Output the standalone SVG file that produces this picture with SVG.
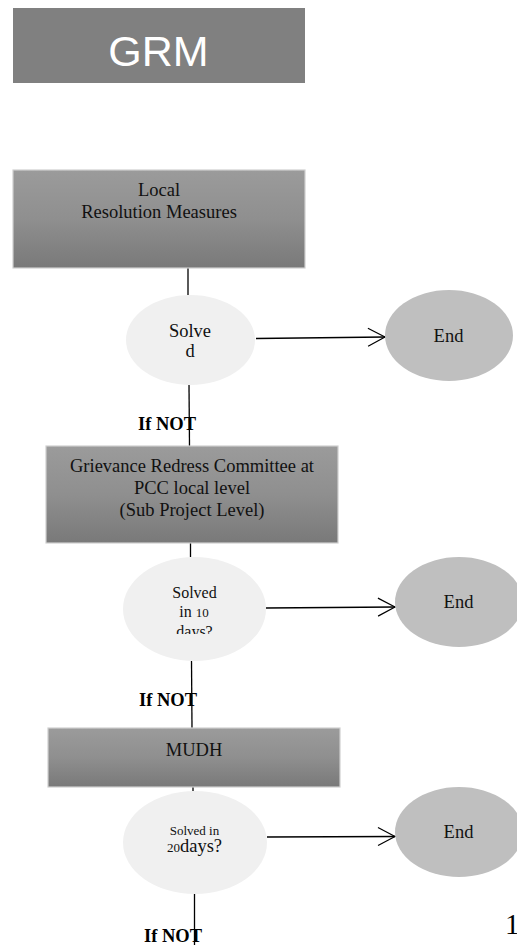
<svg xmlns="http://www.w3.org/2000/svg" width="517" height="945" viewBox="0 0 517 945">
<defs>
<linearGradient id="boxg" x1="0" y1="0" x2="0" y2="1">
<stop offset="0" stop-color="#9b9b9b"/>
<stop offset="0.5" stop-color="#8f8f8f"/>
<stop offset="1" stop-color="#797979"/>
</linearGradient>
<marker id="open" viewBox="0 0 20 20" refX="18" refY="10" markerWidth="20" markerHeight="20" markerUnits="userSpaceOnUse" orient="auto">
<path d="M1,1 L18,10 L1,19" fill="none" stroke="#000" stroke-width="1.2"/>
</marker>
<clipPath id="clip2"><rect x="120" y="570" width="150" height="64"/></clipPath>
</defs>
<style>
.box{fill:url(#boxg);stroke:#cfcfcf;stroke-width:1.2}
.dec{fill:#f0f0f0}
.end{fill:#bfbfbf}
.t{font-family:"Liberation Serif","Times New Roman",serif;font-size:18.5px;fill:#111;text-anchor:middle}
.s{font-family:"Liberation Serif","Times New Roman",serif;fill:#111}
.b{font-family:"Liberation Serif","Times New Roman",serif;font-size:18.5px;font-weight:bold;fill:#000}
.c{stroke:#000;stroke-width:1.3;fill:none}
</style>
<g id="title">
<rect x="13" y="8" width="292" height="75" fill="#808080"/>
<text x="158.5" y="66" font-family="'Liberation Sans',Arial,sans-serif" font-size="43" fill="#fff" text-anchor="middle">GRM</text>
</g>
<g id="connectors">
<line class="c" x1="188" y1="268" x2="188" y2="295"/>
<line class="c" x1="189" y1="385" x2="189.5" y2="446"/>
<line class="c" x1="190.5" y1="543" x2="190.5" y2="557"/>
<line class="c" x1="191.5" y1="661" x2="192" y2="728"/>
<line class="c" x1="193" y1="787" x2="193" y2="791"/>
<line class="c" x1="194.5" y1="894" x2="194.5" y2="945"/>
<line class="c" x1="256" y1="338.5" x2="385" y2="337" marker-end="url(#open)"/>
<line class="c" x1="266" y1="608" x2="395" y2="607" marker-end="url(#open)"/>
<line class="c" x1="267" y1="837" x2="395" y2="836.5" marker-end="url(#open)"/>
</g>
<g id="local">
<rect class="box" x="13" y="170" width="292" height="98"/>
<text class="t" x="159" y="196">Local</text>
<text class="t" x="159" y="218">Resolution Measures</text>
</g>
<g id="solved1">
<ellipse class="dec" cx="190.5" cy="340" rx="64.5" ry="45"/>
<text class="t" x="190" y="337">Solve</text>
<text class="t" x="190" y="357">d</text>
</g>
<g id="end1">
<ellipse class="end" cx="449" cy="335.5" rx="64" ry="45.5"/>
<text class="t" x="448.5" y="342">End</text>
</g>
<g id="ifnot1"><text class="b" x="138" y="430">If NOT</text></g>
<g id="grc">
<rect class="box" x="46" y="446" width="292" height="97"/>
<text class="t" x="192" y="472">Grievance Redress Committee at</text>
<text class="t" x="192" y="494">PCC local level</text>
<text class="t" x="192" y="516">(Sub Project Level)</text>
</g>
<g id="solved2">
<ellipse class="dec" cx="194.5" cy="609" rx="71.5" ry="52"/>
<g clip-path="url(#clip2)">
<text class="s" x="194.5" y="598" font-size="16" text-anchor="middle">Solved</text>
<text class="s" x="194" y="617" font-size="16" text-anchor="middle">in <tspan font-size="13">10</tspan></text>
<text class="s" x="194.5" y="637" font-size="16" text-anchor="middle">days?</text>
</g>
</g>
<g id="end2">
<ellipse class="end" cx="459" cy="602" rx="64" ry="45"/>
<text class="t" x="458.5" y="608">End</text>
</g>
<g id="ifnot2"><text class="b" x="139" y="706">If NOT</text></g>
<g id="mudh">
<rect class="box" x="48" y="728" width="292" height="59"/>
<text class="t" x="194" y="756">MUDH</text>
</g>
<g id="solved3">
<ellipse class="dec" cx="195" cy="842.5" rx="72" ry="51.5"/>
<text class="s" x="194.5" y="835" font-size="13" text-anchor="middle">Solved in</text>
<text class="s" x="194.5" y="852" font-size="18.5" text-anchor="middle"><tspan font-size="13">20</tspan>days?</text>
</g>
<g id="end3">
<ellipse class="end" cx="459" cy="832" rx="64" ry="45"/>
<text class="t" x="458.5" y="838">End</text>
</g>
<g id="ifnot3"><text class="b" x="144" y="942">If NOT</text></g>
<g id="page"><text x="505" y="934" font-family="'Liberation Serif','Times New Roman',serif" font-size="29" fill="#000">1</text></g>
</svg>
